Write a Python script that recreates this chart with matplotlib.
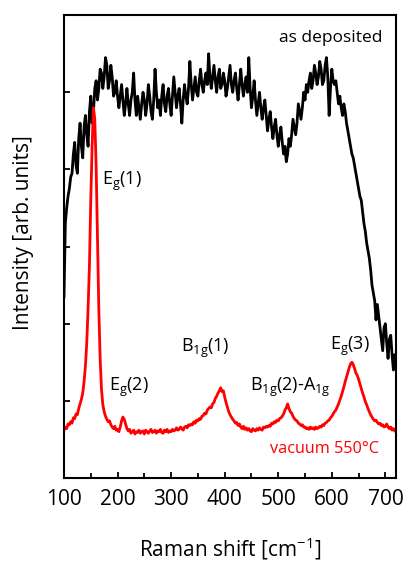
import matplotlib
matplotlib.use("Agg")
import matplotlib.pyplot as plt
from matplotlib.ticker import MultipleLocator

plt.rcParams['font.family'] = ['Open Sans', 'DejaVu Sans']
plt.rcParams['mathtext.fontset'] = 'custom'
plt.rcParams['mathtext.rm'] = 'Open Sans'
plt.rcParams['mathtext.it'] = 'Open Sans'
plt.rcParams['mathtext.default'] = 'rm'

# Raman shift grid [cm^-1]
raman_shift = [
    100, 102.5, 105, 107.5, 110, 112.5, 115, 117.5, 120, 122.5,
    125, 127.5, 130, 132.5, 135, 137.5, 140, 142.5, 145, 147.5,
    150, 152.5, 155, 157.5, 160, 162.5, 165, 167.5, 170, 172.5,
    175, 177.5, 180, 182.5, 185, 187.5, 190, 192.5, 195, 197.5,
    200, 202.5, 205, 207.5, 210, 212.5, 215, 217.5, 220, 222.5,
    225, 227.5, 230, 232.5, 235, 237.5, 240, 242.5, 245, 247.5,
    250, 252.5, 255, 257.5, 260, 262.5, 265, 267.5, 270, 272.5,
    275, 277.5, 280, 282.5, 285, 287.5, 290, 292.5, 295, 297.5,
    300, 302.5, 305, 307.5, 310, 312.5, 315, 317.5, 320, 322.5,
    325, 327.5, 330, 332.5, 335, 337.5, 340, 342.5, 345, 347.5,
    350, 352.5, 355, 357.5, 360, 362.5, 365, 367.5, 370, 372.5,
    375, 377.5, 380, 382.5, 385, 387.5, 390, 392.5, 395, 397.5,
    400, 402.5, 405, 407.5, 410, 412.5, 415, 417.5, 420, 422.5,
    425, 427.5, 430, 432.5, 435, 437.5, 440, 442.5, 445, 447.5,
    450, 452.5, 455, 457.5, 460, 462.5, 465, 467.5, 470, 472.5,
    475, 477.5, 480, 482.5, 485, 487.5, 490, 492.5, 495, 497.5,
    500, 502.5, 505, 507.5, 510, 512.5, 515, 517.5, 520, 522.5,
    525, 527.5, 530, 532.5, 535, 537.5, 540, 542.5, 545, 547.5,
    550, 552.5, 555, 557.5, 560, 562.5, 565, 567.5, 570, 572.5,
    575, 577.5, 580, 582.5, 585, 587.5, 590, 592.5, 595, 597.5,
    600, 602.5, 605, 607.5, 610, 612.5, 615, 617.5, 620, 622.5,
    625, 627.5, 630, 632.5, 635, 637.5, 640, 642.5, 645, 647.5,
    650, 652.5, 655, 657.5, 660, 662.5, 665, 667.5, 670, 672.5,
    675, 677.5, 680, 682.5, 685, 687.5, 690, 692.5, 695, 697.5,
    700, 702.5, 705, 707.5, 710, 712.5, 715, 717.5, 720]

# as deposited (black)
as_deposited = [
    2.35, 3.3, 3.5, 3.65, 3.75, 3.9, 3.95, 4.2, 4.35, 4.05,
    3.95, 4.4, 4.6, 4.3, 4.15, 4.55, 4.7, 4.45, 4.3, 4.75,
    4.95, 4.6, 4.75, 5.05, 5.15, 4.9, 5.05, 5.3, 5.25, 5.05,
    5.2, 5.45, 5.35, 5.05, 5.15, 5.35, 5.2, 4.95, 5.0, 5.15,
    4.95, 4.8, 4.95, 5.1, 4.9, 4.7, 4.85, 5.05, 4.85, 4.7,
    4.9, 5.0, 5.25, 4.9, 4.7, 4.95, 4.8, 4.65, 4.85, 5.0,
    4.9, 4.7, 4.85, 5.1, 4.95, 4.75, 4.65, 4.9, 5.3, 5.0,
    4.8, 4.9, 4.7, 4.95, 5.1, 4.85, 4.75, 4.95, 5.05, 4.85,
    4.7, 4.95, 5.2, 5.0, 4.8, 4.95, 5.05, 4.85, 4.6, 4.9,
    5.1, 4.95, 4.85, 5.05, 5.4, 5.1, 4.9, 5.05, 5.2, 5.0,
    4.95, 5.15, 5.3, 5.1, 5.0, 5.15, 5.25, 5.1, 5.5, 5.2,
    5.05, 5.2, 5.35, 5.15, 5.0, 5.2, 5.3, 5.05, 5.1, 5.25,
    5.15, 4.95, 5.05, 5.2, 5.35, 5.1, 5.0, 5.15, 5.25, 5.05,
    4.9, 5.1, 5.3, 5.1, 4.95, 5.1, 5.2, 5.0, 5.45, 5.05,
    4.8, 4.95, 5.15, 4.9, 4.7, 4.85, 5.0, 4.8, 4.65, 4.8,
    4.9, 4.7, 4.5, 4.65, 4.75, 4.55, 4.4, 4.55, 4.65, 4.45,
    4.3, 4.45, 4.55, 4.35, 4.2, 4.3, 4.1, 4.2, 4.4, 4.3,
    4.45, 4.65, 4.55, 4.45, 4.6, 4.85, 4.75, 4.65, 4.8, 5.0,
    4.9, 5.1, 5.0, 5.15, 5.25, 5.05, 5.15, 5.35, 5.25, 5.1,
    5.2, 5.4, 5.3, 5.1, 5.15, 5.35, 5.45, 5.2, 4.7, 5.05,
    5.3, 5.15, 5.1, 5.15, 5.0, 4.85, 4.95, 4.8, 4.7, 4.85,
    4.75, 4.6, 4.5, 4.4, 4.3, 4.2, 4.15, 4.05, 3.95, 3.85,
    3.75, 3.65, 3.6, 3.45, 3.3, 3.2, 3.05, 2.95, 2.85, 2.7,
    2.5, 2.4, 2.3, 2.05, 2.25, 2.1, 1.95, 1.8, 1.65, 1.95,
    2.0, 1.75, 1.55, 1.8, 1.85, 1.6, 1.4, 1.6, 1.55]

# vacuum 550°C (red)
vacuum_550 = [
    0.62, 0.66, 0.64, 0.7, 0.69, 0.73, 0.71, 0.78, 0.77, 0.83,
    0.82, 0.9, 0.96, 1.02, 1.1, 1.25, 1.45, 1.75, 2.2, 2.75,
    3.6, 4.3, 4.8, 4.65, 4.05, 3.1, 2.2, 1.55, 1.15, 0.95,
    0.86, 0.8, 0.76, 0.73, 0.74, 0.69, 0.66, 0.64, 0.67, 0.62,
    0.63, 0.6, 0.66, 0.74, 0.79, 0.76, 0.7, 0.64, 0.61, 0.63,
    0.58, 0.6, 0.62, 0.57, 0.6, 0.59, 0.62, 0.58, 0.6, 0.61,
    0.57, 0.62, 0.6, 0.58, 0.61, 0.63, 0.59, 0.6, 0.62, 0.58,
    0.61, 0.6, 0.63, 0.59, 0.58, 0.62, 0.6, 0.63, 0.59, 0.61,
    0.6, 0.63, 0.61, 0.62, 0.65, 0.62, 0.63, 0.66, 0.64, 0.62,
    0.66, 0.67, 0.65, 0.69, 0.68, 0.7, 0.69, 0.73, 0.71, 0.75,
    0.74, 0.77, 0.76, 0.8, 0.81, 0.84, 0.83, 0.88, 0.9, 0.92,
    0.91, 0.96, 0.98, 1.03, 1.06, 1.1, 1.13, 1.17, 1.12, 1.13,
    1.05, 0.98, 0.92, 0.86, 0.82, 0.79, 0.76, 0.74, 0.71, 0.72,
    0.68, 0.7, 0.66, 0.64, 0.67, 0.63, 0.65, 0.62, 0.64, 0.61,
    0.6, 0.64, 0.62, 0.61, 0.64, 0.62, 0.65, 0.63, 0.62, 0.66,
    0.65, 0.67, 0.66, 0.68, 0.67, 0.71, 0.7, 0.73, 0.72, 0.75,
    0.74, 0.77, 0.78, 0.8, 0.83, 0.88, 0.91, 0.96, 0.9, 0.86,
    0.84, 0.8, 0.77, 0.75, 0.74, 0.71, 0.7, 0.68, 0.69, 0.66,
    0.66, 0.64, 0.65, 0.63, 0.66, 0.64, 0.65, 0.63, 0.66, 0.64,
    0.65, 0.67, 0.66, 0.69, 0.68, 0.71, 0.72, 0.74, 0.75, 0.78,
    0.8, 0.83, 0.86, 0.88, 0.92, 0.96, 1.01, 1.06, 1.12, 1.18,
    1.25, 1.31, 1.37, 1.43, 1.48, 1.5, 1.47, 1.42, 1.36, 1.33,
    1.28, 1.22, 1.16, 1.1, 1.05, 0.99, 0.95, 0.9, 0.86, 0.82,
    0.79, 0.76, 0.74, 0.75, 0.72, 0.7, 0.71, 0.68, 0.69, 0.66,
    0.67, 0.7, 0.66, 0.64, 0.66, 0.62, 0.64, 0.61, 0.6]

x_ticks = [100, 200, 300, 400, 500, 600, 700]

fig = plt.figure(figsize=(4.05, 5.62), dpi=100)
ax = fig.add_axes([0.158, 0.1495, 0.82, 0.8235])

ax.plot(raman_shift, as_deposited, color='black', lw=2.0)
ax.plot(raman_shift, vacuum_550, color='red', lw=2.0)

ax.set_xlim(100, 720)
ax.set_ylim(0, 6)
ax.set_xticks(x_ticks)
ax.xaxis.set_minor_locator(MultipleLocator(50))
ax.set_yticks([1, 2, 3, 4, 5])
ax.set_yticklabels([])
ax.tick_params(axis='both', which='both', direction='in', width=1.3)
ax.tick_params(axis='both', which='major', length=4)
ax.tick_params(axis='both', which='minor', length=3.5)
ax.tick_params(axis='x', labelsize=15, pad=8)
for s in ax.spines.values():
    s.set_linewidth(1.5)

ax.set_xlabel('Raman shift [cm$^{-1}$]', fontsize=15)
ax.xaxis.set_label_coords(0.5, -0.125)
ax.set_ylabel('Intensity [arb. units]', fontsize=15)
ax.yaxis.set_label_coords(-0.09, 0.53)

fs = 13
ax.text(0.96, 0.95, 'as deposited', transform=ax.transAxes, ha='right', va='center', fontsize=12.5)
ax.text(0.115, 0.64, 'E$_g$(1)', transform=ax.transAxes, ha='left', va='center', fontsize=fs)
ax.text(0.137, 0.195, 'E$_g$(2)', transform=ax.transAxes, ha='left', va='center', fontsize=fs)
ax.text(0.425, 0.28, 'B$_{1g}$(1)', transform=ax.transAxes, ha='center', va='center', fontsize=fs)
ax.text(0.56, 0.195, 'B$_{1g}$(2)-A$_{1g}$', transform=ax.transAxes, ha='left', va='center', fontsize=fs)
ax.text(0.86, 0.285, 'E$_g$(3)', transform=ax.transAxes, ha='center', va='center', fontsize=fs)
ax.text(0.95, 0.063, 'vacuum 550°C', transform=ax.transAxes, ha='right', va='center',
        fontsize=11.7, color='red')

fig.savefig('out.png', dpi=100)
